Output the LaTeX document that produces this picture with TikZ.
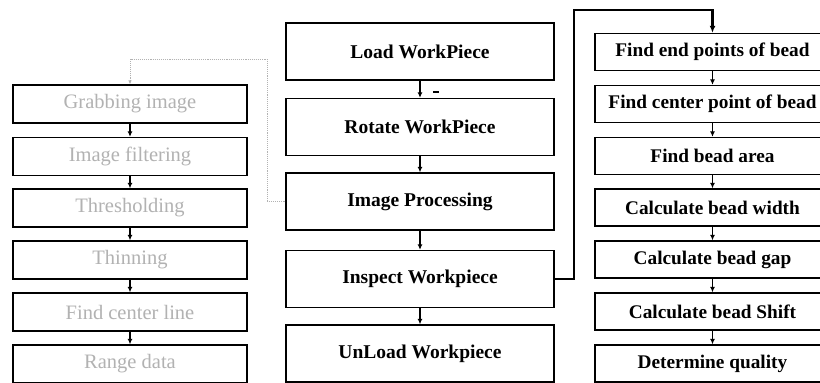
\documentclass[tikz,border=0pt]{standalone}
\usepackage{fontspec}
\setmainfont{Liberation Serif}
\usetikzlibrary{arrows.meta}
\begin{document}
\begin{tikzpicture}[x=1pt,y=-1pt,
  box/.style={draw=black,line width=1.3pt,rectangle,inner sep=0pt,anchor=center},
  lbox/.style={box,minimum width=234pt,minimum height=38pt,text=black!30,font=\fontsize{20.5}{22}\selectfont},
  mbox/.style={box,minimum width=268pt,minimum height=57pt,font=\fontsize{19.5}{21}\selectfont\bfseries},
  rbox/.style={box,minimum width=235pt,minimum height=37pt,font=\fontsize{19.3}{21}\selectfont\bfseries},
  arr/.style={line width=1.3pt,-{Latex[length=5.5pt,width=5pt]}},
  dotline/.style={draw=black!30,line width=0.9pt,densely dotted}]
\clip (0,0) rectangle (820,383);
\fill[white] (0,0) rectangle (820,383);
% left column
\node[lbox] (l1) at (130,104) {Grabbing image};
\node[lbox] (l2) at (130,156.5) {Image filtering};
\node[lbox] (l3) at (130,208) {Thresholding};
\node[lbox] (l4) at (130,260) {Thinning};
\node[lbox] (l5) at (130,312) {Find center line};
\node[lbox] (l6) at (130,364) {Range data};
% middle column
\node[mbox] (m1) at (420,51.5) {Load WorkPiece};
\node[mbox] (m2) at (420,127) {Rotate WorkPiece};
\node[mbox] (m3) at (420,201.5) {Image Processing};
\node[mbox] (m4) at (420,279) {Inspect Workpiece};
\node[mbox] (m5) at (420,353.5) {UnLoad Workpiece};
% right column
\node[rbox] (r1) at (712.5,52) {Find end points of bead};
\node[rbox] (r2) at (712.5,104) {Find center point of bead};
\node[rbox] (r3) at (712.5,156) {Find bead area};
\node[rbox] (r4) at (712.5,207.5) {Calculate bead width};
\node[rbox] (r5) at (712.5,259.5) {Calculate bead gap};
\node[rbox] (r6) at (712.5,311.5) {Calculate bead Shift};
\node[rbox] (r7) at (712.5,363.5) {Determine quality};
% arrows
\foreach \a/\b in {l1/l2,l2/l3,l3/l4,l4/l5,l5/l6,m1/m2,m2/m3,m3/m4,m4/m5,r1/r2,r2/r3,r3/r4,r4/r5,r5/r6,r6/r7}
  \draw[arr] (\a.south) -- (\b.north);
% dotted connector
\coordinate (d1) at (267,201.5);
\coordinate (d2) at (130,59);
\draw[dotline,-{Latex[length=4pt,width=3.5pt]}] (m3.west) -- (d1) |- (d2) -- (l1.north);
% thick connector
\coordinate (t1) at (574,279);
\coordinate (t2) at (712.5,10);
\draw[line width=2.8pt,-{Latex[length=7pt,width=6pt]}] (m4.east) -- (t1) |- (t2) -- (r1.north);
% small mark
\draw[line width=1.2pt] (433,92) -- (439,92);
\end{tikzpicture}
\end{document}
